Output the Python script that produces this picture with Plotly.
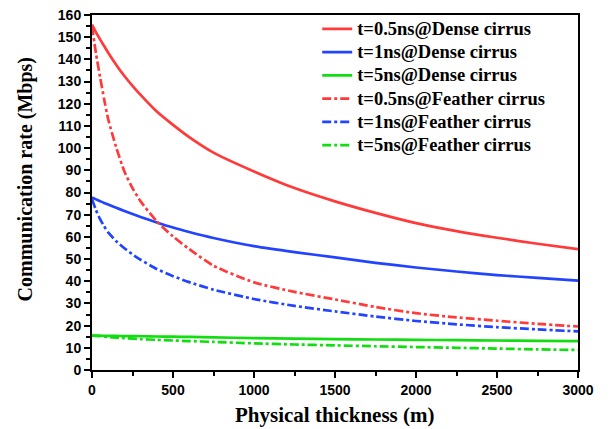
import plotly.graph_objects as go

thickness = [0, 25, 50, 75, 100, 150, 200, 250, 300, 400, 500, 600, 750, 1000, 1250, 1500, 1750, 2000, 2250, 2500, 2750, 3000]

red_dense = [155.7, 152.2, 149, 146, 143, 137.5, 132.5, 128.1, 124, 116.5, 110.5, 105, 98, 89.5, 82, 76, 70.8, 66.2, 62.6, 59.6, 56.9, 54.5]
blue_dense = [77.7, 76.9, 76.1, 75.3, 74.6, 73.1, 71.7, 70.3, 69, 66.5, 64.2, 62.2, 59.5, 55.8, 53.1, 50.8, 48.3, 46.2, 44.4, 42.8, 41.5, 40.3]
green_dense = [15.5, 15.48, 15.45, 15.43, 15.4, 15.35, 15.3, 15.25, 15.2, 15.1, 15.0, 14.9, 14.7, 14.4, 14.15, 13.9, 13.75, 13.6, 13.45, 13.3, 13.15, 13.0]
red_feather = [155, 142.5, 132, 122, 113, 100.2, 89.5, 82, 76, 67, 60.2, 54.5, 47, 39.5, 35.2, 31.8, 28.4, 25.6, 23.7, 22.2, 20.8, 19.6]
blue_feather = [77, 72, 68, 64.8, 62, 58, 54.9, 52.1, 49.7, 45.5, 42.3, 39.6, 36.2, 32, 28.9, 26.4, 24.1, 22.1, 20.6, 19.3, 18.3, 17.4]
green_feather = [15.5, 15.35, 15.2, 15.05, 14.9, 14.6, 14.35, 14.1, 13.9, 13.6, 13.3, 13.05, 12.65, 12.0, 11.5, 11.1, 10.7, 10.35, 10.0, 9.65, 9.3, 9.0]

names = ["t=0.5ns@Dense cirrus", "t=1ns@Dense cirrus", "t=5ns@Dense cirrus",
         "t=0.5ns@Feather cirrus", "t=1ns@Feather cirrus", "t=5ns@Feather cirrus"]
series = [red_dense, blue_dense, green_dense, red_feather, blue_feather, green_feather]
colors = ["#FF3A3A", "#2244FF", "#11DD11", "#FF3A3A", "#2244FF", "#11DD11"]
dashes = ["solid", "solid", "solid", "9px,3px,3px,3px", "9px,3px,3px,3px", "9px,3px,3px,3px"]

fig = go.Figure()
for n, s, c, d in zip(names, series, colors, dashes):
    fig.add_trace(go.Scatter(x=thickness, y=s, mode="lines",
                             name="<span style='font-size:18.5px'>" + n + "</span>",
                             line=dict(color=c, width=2.7, dash=d, shape="spline", smoothing=0.6)))

axis_common = dict(showline=True, linecolor="black", linewidth=2, mirror=True,
                   ticks="outside", ticklen=6, tickwidth=2, tickcolor="black",
                   showgrid=False, zeroline=False,
                   tickfont=dict(family="Liberation Sans, Arial", size=14, color="black", weight="bold"))

fig.update_xaxes(range=[0, 3000], dtick=500, tick0=0,
                 minor=dict(ticks="outside", ticklen=4, tickwidth=2, dtick=250, tickcolor="black"),
                 **axis_common)
fig.update_yaxes(range=[0, 160], dtick=10, tick0=0,
                 minor=dict(ticks="outside", ticklen=4, tickwidth=2, dtick=5, tickcolor="black"),
                 **axis_common)

fig.add_annotation(text="Physical thickness (m)", xref="paper", yref="paper",
                   x=0.5, y=-0.1255, xanchor="center", yanchor="middle", showarrow=False,
                   font=dict(family="Liberation Serif, Times New Roman", size=21, color="black", weight="bold"))
fig.add_annotation(text="Communication rate (Mbps)", xref="paper", yref="paper",
                   x=-0.137, y=0.538, xanchor="center", yanchor="middle", showarrow=False, textangle=-90,
                   font=dict(family="Liberation Serif, Times New Roman", size=20, color="black", weight="bold"))

fig.update_layout(
    width=610, height=429,
    margin=dict(l=91.5, r=32, t=7, b=58.5),
    paper_bgcolor="white", plot_bgcolor="white",
    showlegend=True,
    legend=dict(x=0.4634, y=1.008, xanchor="left", yanchor="top", bgcolor="rgba(0,0,0,0)",
                font=dict(family="Liberation Serif, Times New Roman", size=15.6, color="black", weight="bold"),
                tracegroupgap=0, itemwidth=30),
)

fig.write_html("out.html", config={"displayModeBar": False},
               post_script="document.body.style.margin='0';")
